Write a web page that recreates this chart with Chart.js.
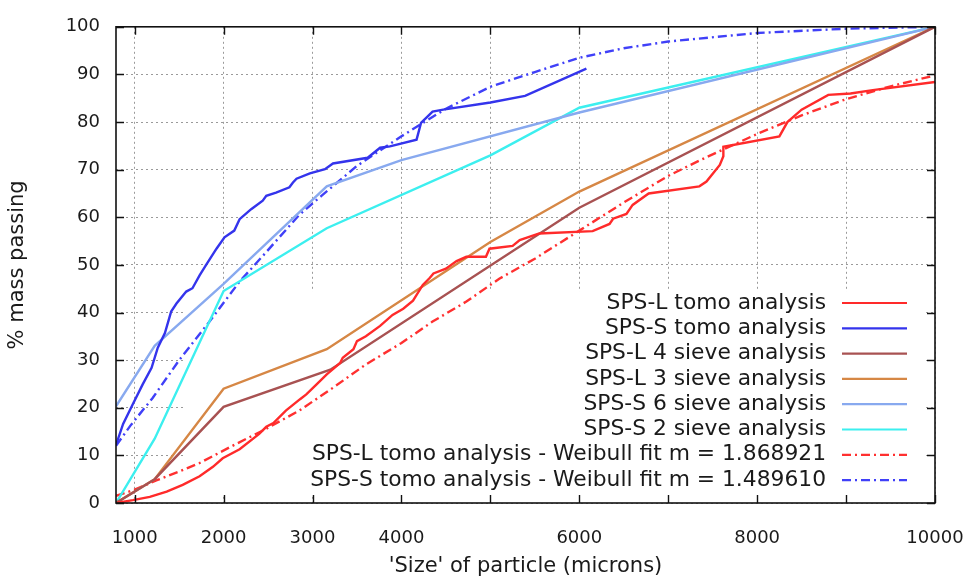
<!DOCTYPE html>
<html>
<head>
<meta charset="utf-8">
<script src="https://cdn.jsdelivr.net/npm/chart.js@4.4.0/dist/chart.umd.min.js"></script>
<style>
  html, body { margin: 0; padding: 0; background: #fff; }
  #wrap { width: 972px; height: 579px; }
</style>
</head>
<body>
<div id="wrap"><canvas id="psd"></canvas></div>
<script>
// x axis: particle size in microns, y: % mass passing
const xMin = 790
const xMax = 10000
const xTickVals = [1000, 2000, 3000, 4000, 5000, 6000, 7000, 8000, 9000, 10000]
const xTickLabels = [1000, 2000, 3000, 4000, 6000, 8000, 10000]

// [size, % passing]
const spsLTomo = [[790,0],[980,0.6],[1170,1.3],[1360,2.4],[1540,3.8],[1730,5.6],[1880,7.6],[1990,9.4],[2180,11.3],[2400,14.5],[2480,16],[2560,16.8],[2700,19.4],[2860,21.8],[2930,22.8],[3040,24.8],[3160,27],[3230,28.1],[3310,29.4],[3340,30.5],[3460,32.3],[3500,34],[3600,35],[3760,37.2],[3900,39.5],[4020,40.8],[4130,42.5],[4240,45.8],[4320,47.3],[4360,48.2],[4500,49.2],[4620,50.8],[4730,51.7],[4950,51.7],[4990,53.4],[5250,54],[5330,55.2],[5550,56.6],[6150,57.1],[6340,58.6],[6380,59.7],[6530,60.7],[6600,62.6],[6780,65],[7350,66.5],[7430,67.5],[7580,71],[7620,72.8],[7620,74.8],[8250,77],[8340,80],[8500,82.6],[8800,85.7],[9050,86],[9300,86.7],[10000,88.4]]
const spsSTomo = [[790,12.2],[870,16.6],[980,20.8],[1090,24.9],[1190,28.4],[1260,32.6],[1340,35.7],[1410,40.2],[1470,41.9],[1580,44.4],[1650,45.1],[1730,47.8],[1800,49.9],[1920,53.4],[2010,55.8],[2120,57.2],[2180,59.6],[2310,61.7],[2440,63.5],[2480,64.5],[2590,65.2],[2740,66.3],[2780,67.3],[2820,68.1],[2970,69.2],[3140,70.1],[3230,71.3],[3620,72.5],[3760,74.6],[3870,74.9],[4170,76.3],[4220,79.8],[4350,82.2],[4470,82.6],[5000,84.1],[5390,85.5],[6080,91.2]]
const spsL4Sieve = [[790,0],[1225,5],[2000,20.2],[3200,28],[6000,62],[10000,100]]
const spsL3Sieve = [[790,0],[1225,5],[2000,24],[3160,32.3],[5000,54.8],[6000,65.4],[10000,100]]
const spsS6Sieve = [[790,20.3],[1225,33],[2000,46],[3160,66.5],[4000,72],[6000,82],[10000,100]]
const spsS2Sieve = [[790,0],[1225,13.5],[2000,44.5],[3160,57.7],[5000,73],[6000,83],[10000,100]]
const weibullL = [[790,1.5],[1000,2.8],[1250,4.8],[1500,6.6],[1730,8.4],[2100,12],[2480,15.6],[2850,19.4],[3230,24.2],[3600,29.1],[4000,33.6],[4350,38.1],[4730,42.3],[5100,47.1],[5500,51.3],[6000,57.2],[6500,63.1],[7000,68.7],[7450,72.8],[8000,77.5],[8500,81.4],[9000,84.8],[9500,87.5],[10000,89.8]]
const weibullS = [[790,12],[950,16.2],[1200,22],[1500,30],[1850,38.3],[2180,46.5],[2480,52.7],[2850,60.5],[3100,64.5],[3500,70.8],[4000,77],[4500,82.8],[5000,87.4],[5500,90.5],[6000,93.5],[6500,95.5],[7000,96.9],[8000,98.7],[9000,99.6],[10000,100]]

const seriesNames = [
  'SPS-L tomo analysis',
  'SPS-S tomo analysis',
  'SPS-L 4 sieve analysis',
  'SPS-L 3 sieve analysis',
  'SPS-S 6 sieve analysis',
  'SPS-S 2 sieve analysis',
  'SPS-L tomo analysis - Weibull fit m = 1.868921',
  'SPS-S tomo analysis - Weibull fit m = 1.489610'
]
const seriesData = [spsLTomo, spsSTomo, spsL4Sieve, spsL3Sieve, spsS6Sieve, spsS2Sieve, weibullL, weibullS]
const seriesColors = ['#ff2a2a', '#3434ec', '#a85252', '#d68745', '#88a9ef', '#3cefef', '#ff3030', '#4040f8']
const dashDot = [9, 4, 2, 4]
const seriesDash = [[], [], [], [], [], [], dashDot, dashDot]

const FONT = 'DejaVu Sans'

const toPts = arr => arr.map(p => ({x: p[0], y: p[1]}))

// white key box, gnuplot style: hides the grid but not the curves
const keyBox = {
  id: 'keyBox',
  beforeDatasetsDraw(chart) {
    const {ctx, scales: {x, y}} = chart
    const left = x.getPixelForValue(1570)
    const top = y.getPixelForValue(44.5)
    const right = x.getPixelForValue(9870)
    const bottom = y.getPixelForValue(1.5)
    ctx.save()
    ctx.fillStyle = '#fff'
    ctx.fillRect(left, top, right - left, bottom - top)
    ctx.restore()
  },
  afterDatasetsDraw(chart) {
    const {ctx, chartArea: a, scales: {x, y}} = chart
    ctx.save()
    // frame
    ctx.strokeStyle = '#111'
    ctx.lineWidth = 1.6
    ctx.strokeRect(a.left, a.top, a.right - a.left, a.bottom - a.top)
    // inward ticks on all four sides
    ctx.lineWidth = 1.4
    ctx.beginPath()
    xTickVals.forEach(v => {
      const px = Math.round(x.getPixelForValue(v)) + 0.5
      ctx.moveTo(px, a.bottom); ctx.lineTo(px, a.bottom - 8)
      ctx.moveTo(px, a.top); ctx.lineTo(px, a.top + 8)
    })
    for (let v = 0; v <= 100; v += 10) {
      const py = Math.round(y.getPixelForValue(v)) + 0.5
      ctx.moveTo(a.left, py); ctx.lineTo(a.left + 8, py)
      ctx.moveTo(a.right, py); ctx.lineTo(a.right - 8, py)
    }
    ctx.stroke()
    // key entries
    const textRight = 826
    const sx1 = 842, sx2 = 907
    ctx.font = '21.8px "' + FONT + '"'
    ctx.textAlign = 'right'
    ctx.textBaseline = 'middle'
    seriesNames.forEach((name, i) => {
      const cy = 303 + i * 25.3
      ctx.fillStyle = '#1a1a1a'
      ctx.fillText(name, textRight, cy)
      ctx.strokeStyle = seriesColors[i]
      ctx.lineWidth = 2.2
      ctx.setLineDash(seriesDash[i])
      ctx.beginPath()
      ctx.moveTo(sx1, cy); ctx.lineTo(sx2, cy)
      ctx.stroke()
    })
    ctx.restore()
  }
}

new Chart(document.getElementById('psd'), {
  type: 'scatter',
  data: {
    datasets: seriesData.map((d, i) => ({
      label: seriesNames[i],
      data: toPts(d),
      showLine: true,
      borderColor: seriesColors[i],
      backgroundColor: seriesColors[i],
      borderWidth: 2.4,
      borderDash: seriesDash[i],
      pointRadius: 0,
      tension: 0
    }))
  },
  options: {
    responsive: true,
    maintainAspectRatio: false,
    animation: false,
    layout: {padding: {left: 0, right: 37, top: 23, bottom: 0}},
    plugins: {
      legend: {display: false},
      tooltip: {enabled: false}
    },
    scales: {
      x: {
        type: 'linear',
        min: xMin,
        max: xMax,
        afterBuildTicks: scale => { scale.ticks = xTickVals.map(v => ({value: v})) },
        afterFit: scale => { scale.height = 76; scale.paddingLeft = 0; scale.paddingRight = 0 },
        grid: {color: '#9a9a9a', lineWidth: 1, drawTicks: false},
        border: {display: false, dash: [2, 3]},
        ticks: {
          autoSkip: false,
          maxRotation: 0,
          padding: 25,
          color: '#1a1a1a',
          font: {family: FONT, size: 18},
          callback: v => xTickLabels.includes(v) ? String(v) : ''
        },
        title: {
          display: true,
          text: "'Size' of particle (microns)",
          color: '#1a1a1a',
          font: {family: FONT, size: 21},
          padding: {top: 0, bottom: 0}
        }
      },
      y: {
        min: 0,
        max: 100,
        afterFit: scale => { scale.width = 116 },
        grid: {color: '#9a9a9a', lineWidth: 1, drawTicks: false},
        border: {display: false, dash: [2, 3]},
        ticks: {
          stepSize: 10,
          padding: 16,
          color: '#1a1a1a',
          font: {family: FONT, size: 18}
        },
        title: {
          display: true,
          text: '% mass passing',
          color: '#1a1a1a',
          font: {family: FONT, size: 21},
          padding: {top: 5, bottom: 0}
        }
      }
    }
  },
  plugins: [keyBox]
})
</script>
</body>
</html>
